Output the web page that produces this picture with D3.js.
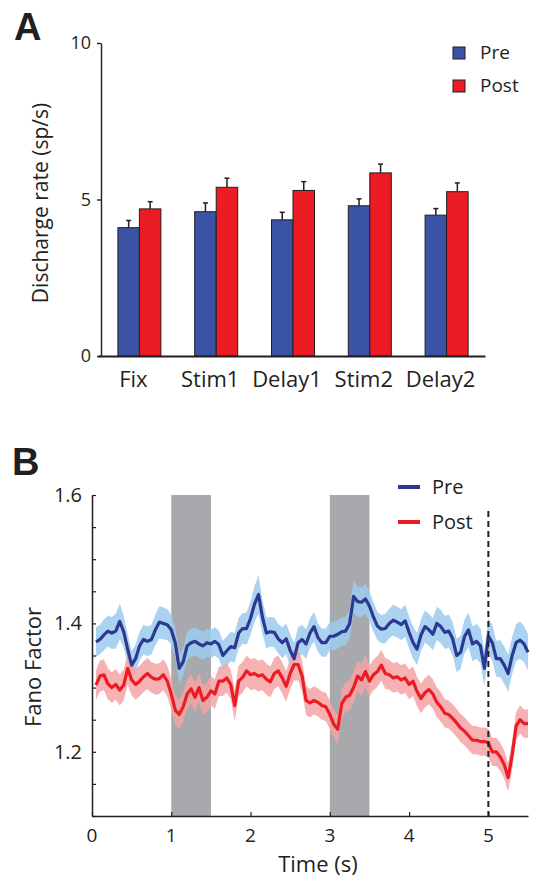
<!DOCTYPE html>
<html>
<head>
<meta charset="utf-8">
<script src="https://cdn.jsdelivr.net/npm/d3@7"></script>
<style>
  html, body { margin: 0; padding: 0; background: #fff; }
  svg { display: block; }
  text { font-family: "Open Sans", "Noto Sans", sans-serif; fill: #231f20; }
</style>
</head>
<body>
<svg id="chart" width="542" height="882"></svg>
<script>
// ---------- Panel A data ----------
const categories = ["Fix", "Stim1", "Delay1", "Stim2", "Delay2"];
const groups = ["Pre", "Post"];
const preRate = [4.10, 4.61, 4.35, 4.80, 4.50];
const postRate = [4.70, 5.39, 5.29, 5.85, 5.25];
const preErr = [0.23, 0.28, 0.24, 0.22, 0.21];
const postErr = [0.23, 0.29, 0.28, 0.28, 0.28];
const rateTicks = [0, 5, 10];

// ---------- Panel B data ----------
const time = [0.05,0.10,0.15,0.20,0.25,0.30,0.35,0.40,0.45,0.50,0.55,0.60,0.65,0.70,0.75,0.80,0.85,0.90,0.95,1.00,
  1.05,1.10,1.15,1.20,1.25,1.30,1.35,1.40,1.45,1.50,1.55,1.60,1.65,1.70,1.75,1.80,1.85,1.90,1.95,2.00,
  2.05,2.10,2.15,2.20,2.25,2.30,2.35,2.40,2.45,2.50,2.55,2.60,2.65,2.70,2.75,2.80,2.85,2.90,2.95,3.00,
  3.05,3.10,3.15,3.20,3.25,3.30,3.35,3.40,3.45,3.50,3.55,3.60,3.65,3.70,3.75,3.80,3.85,3.90,3.95,4.00,
  4.05,4.10,4.15,4.20,4.25,4.30,4.35,4.40,4.45,4.50,4.55,4.60,4.65,4.70,4.75,4.80,4.85,4.90,4.95,5.00,
  5.05,5.10,5.15,5.20,5.25,5.30,5.35,5.40,5.45,5.50];
const preFano = [1.371,1.375,1.382,1.388,1.385,1.388,1.403,1.387,1.360,1.335,1.345,1.365,1.375,1.372,1.375,1.390,1.402,1.400,1.398,1.390,
  1.370,1.330,1.340,1.365,1.370,1.372,1.368,1.365,1.370,1.368,1.372,1.367,1.350,1.357,1.364,1.362,1.385,1.392,1.392,1.408,
  1.430,1.445,1.410,1.385,1.387,1.386,1.376,1.370,1.376,1.358,1.345,1.370,1.375,1.368,1.385,1.395,1.378,1.370,1.370,1.380,
  1.380,1.383,1.387,1.388,1.400,1.442,1.434,1.433,1.438,1.427,1.410,1.396,1.391,1.392,1.400,1.405,1.402,1.398,1.404,1.386,
  1.370,1.360,1.382,1.395,1.390,1.383,1.400,1.395,1.386,1.388,1.376,1.350,1.355,1.380,1.390,1.368,1.372,1.365,1.330,1.380,
  1.370,1.345,1.345,1.335,1.322,1.350,1.370,1.374,1.368,1.355];
const preSem = [0.023,0.023,0.024,0.024,0.025,0.027,0.028,0.025,0.023,0.022,0.022,0.022,0.023,0.023,0.023,0.024,0.025,0.025,0.024,0.023,
  0.023,0.023,0.022,0.022,0.022,0.022,0.022,0.022,0.022,0.022,0.022,0.022,0.023,0.023,0.023,0.023,0.024,0.024,0.025,0.026,
  0.028,0.030,0.027,0.024,0.023,0.023,0.023,0.024,0.024,0.025,0.025,0.024,0.023,0.023,0.023,0.023,0.022,0.022,0.022,0.022,
  0.022,0.022,0.022,0.022,0.023,0.025,0.024,0.023,0.023,0.023,0.023,0.022,0.022,0.023,0.023,0.024,0.024,0.024,0.025,0.025,
  0.025,0.025,0.025,0.025,0.025,0.025,0.026,0.026,0.026,0.026,0.026,0.026,0.026,0.026,0.027,0.027,0.027,0.027,0.028,0.028,
  0.028,0.028,0.029,0.029,0.029,0.029,0.029,0.029,0.028,0.028];
const postFano = [1.304,1.318,1.320,1.306,1.300,1.305,1.296,1.304,1.330,1.312,1.305,1.310,1.317,1.322,1.316,1.313,1.314,1.320,1.310,1.290,
  1.265,1.258,1.270,1.290,1.298,1.285,1.300,1.280,1.285,1.295,1.290,1.310,1.310,1.315,1.305,1.272,1.310,1.316,1.326,1.320,
  1.322,1.318,1.320,1.313,1.309,1.322,1.326,1.315,1.302,1.322,1.336,1.336,1.318,1.280,1.276,1.280,1.277,1.272,1.270,1.258,
  1.243,1.235,1.275,1.285,1.288,1.300,1.318,1.312,1.325,1.310,1.320,1.325,1.335,1.322,1.320,1.315,1.317,1.312,1.315,1.305,
  1.310,1.294,1.283,1.292,1.297,1.290,1.277,1.270,1.260,1.258,1.252,1.245,1.237,1.232,1.225,1.218,1.218,1.216,1.216,1.214,
  1.200,1.200,1.192,1.180,1.160,1.195,1.240,1.250,1.244,1.244];
const postSem = [0.023,0.024,0.024,0.024,0.024,0.024,0.024,0.024,0.025,0.024,0.024,0.024,0.024,0.024,0.024,0.024,0.024,0.024,0.024,0.024,
  0.023,0.023,0.023,0.023,0.023,0.023,0.023,0.023,0.023,0.023,0.023,0.023,0.023,0.023,0.023,0.024,0.024,0.024,0.024,0.024,
  0.024,0.024,0.024,0.024,0.024,0.024,0.024,0.024,0.024,0.024,0.025,0.025,0.024,0.023,0.022,0.022,0.022,0.022,0.022,0.022,
  0.022,0.022,0.023,0.023,0.024,0.024,0.025,0.025,0.025,0.024,0.024,0.024,0.024,0.024,0.023,0.023,0.023,0.023,0.023,0.023,
  0.023,0.023,0.023,0.023,0.023,0.023,0.023,0.023,0.022,0.022,0.022,0.022,0.022,0.022,0.022,0.022,0.022,0.022,0.022,0.022,
  0.022,0.022,0.022,0.022,0.022,0.022,0.022,0.022,0.022,0.022];
const fanoTicks = [1.2, 1.4, 1.6];
const fanoMinorTicks = [1.1, 1.15, 1.2, 1.25, 1.3, 1.35, 1.4, 1.45, 1.5, 1.55, 1.6];
const timeTicks = [0, 1, 2, 3, 4, 5];
const stimEpochs = [[1, 1.5], [3, 3.5]];
const markerTime = 5;
const markerTop = 1.575;

// ---------- colours ----------
const colPre = "#3a53a4", colPost = "#ec1c24";
const colPreLine = "#2b3990", colPreBand = "#9ccbee";
const colPostLine = "#ed1c24", colPostBand = "#f5a3a5";
const ink = "#231f20";

const svg = d3.select("#chart");

// ================= Panel A =================
const yA = d3.scaleLinear().domain([0, 10]).range([356, 43]);
const xA = d3.scaleBand().domain(categories).range([101, 485]).paddingInner(0.44).paddingOuter(0.22);
const xA1 = d3.scaleBand().domain(groups).range([0, xA.bandwidth()]);

svg.append("text").attr("x", 14).attr("y", 40)
  .style("font-family", "'Liberation Sans', Arial, sans-serif")
  .style("font-weight", "bold").style("font-size", "38px").text("A");

const gA = svg.append("g");
const rows = categories.map((c, i) => ({c, vals: [
  {g: "Pre", v: preRate[i], e: preErr[i], col: colPre},
  {g: "Post", v: postRate[i], e: postErr[i], col: colPost}]}));

const grp = gA.selectAll("g.grp").data(rows).join("g")
  .attr("transform", d => `translate(${xA(d.c)},0)`);
grp.selectAll("line.err").data(d => d.vals).join("line")
  .attr("x1", d => xA1(d.g) + xA1.bandwidth() / 2).attr("x2", d => xA1(d.g) + xA1.bandwidth() / 2)
  .attr("y1", d => yA(d.v)).attr("y2", d => yA(d.v + d.e))
  .attr("stroke", ink).attr("stroke-width", 1.5);
grp.selectAll("line.cap").data(d => d.vals).join("line")
  .attr("x1", d => xA1(d.g) + xA1.bandwidth() / 2 - 2.5).attr("x2", d => xA1(d.g) + xA1.bandwidth() / 2 + 2.5)
  .attr("y1", d => yA(d.v + d.e)).attr("y2", d => yA(d.v + d.e))
  .attr("stroke", ink).attr("stroke-width", 1.5);
grp.selectAll("rect").data(d => d.vals).join("rect")
  .attr("x", d => xA1(d.g)).attr("width", xA1.bandwidth())
  .attr("y", d => yA(d.v)).attr("height", d => yA(0) - yA(d.v))
  .attr("fill", d => d.col).attr("stroke", ink).attr("stroke-width", 1);

const axA = gA.append("g").attr("transform", "translate(101,0)")
  .call(d3.axisLeft(yA).tickValues(rateTicks).tickSize(4).tickSizeOuter(0).tickPadding(6));
axA.select(".domain").attr("stroke", ink).attr("stroke-width", 1.4);
axA.selectAll(".tick line").attr("stroke", ink).attr("stroke-width", 1.4);
axA.selectAll(".tick text").style("font-size", "18px").attr("fill", ink)
  .style("font-family", "'Open Sans', sans-serif");
const axAx = gA.append("g").attr("transform", "translate(0,356)")
  .call(d3.axisBottom(d3.scaleLinear().domain([0, 1]).range([98, 485])).tickValues([]).tickSizeOuter(0));
axAx.select(".domain").attr("stroke", ink).attr("stroke-width", 2.2);
gA.selectAll("text.cat").data(categories).join("text").attr("class", "cat")
  .attr("x", d => xA(d) + xA.bandwidth() / 2 - 6).attr("y", 387)
  .attr("text-anchor", "middle").style("font-size", "22px").text(d => d);
gA.append("text").attr("transform", "translate(48,203) rotate(-90)")
  .attr("text-anchor", "middle").style("font-size", "21px").text("Discharge rate (sp/s)");
const legA = gA.selectAll("g.legA").data([{g: "Pre", c: colPre}, {g: "Post", c: colPost}]).join("g")
  .attr("transform", (d, i) => `translate(453,${47 + i * 33})`);
legA.append("rect").attr("width", 12).attr("height", 12).attr("fill", d => d.c)
  .attr("stroke", ink).attr("stroke-width", 1);
legA.append("text").attr("x", 27).attr("y", 12).style("font-size", "19px").text(d => d.g);

// ================= Panel B =================
const xB = d3.scaleLinear().domain([0, 5.5]).range([92, 528]);
const yB = d3.scaleLinear().domain([1.1, 1.6]).range([816, 495]);

svg.append("text").attr("x", 12).attr("y", 475)
  .style("font-family", "'Liberation Sans', Arial, sans-serif")
  .style("font-weight", "bold").style("font-size", "38px").text("B");

const gB = svg.append("g");
gB.selectAll("rect.epoch").data(stimEpochs).join("rect")
  .attr("x", d => xB(d[0])).attr("width", d => xB(d[1]) - xB(d[0]))
  .attr("y", yB(1.6)).attr("height", yB(1.1) - yB(1.6)).attr("fill", "#a7a9ac");

const series = [
  {vals: preFano, sem: preSem, line: colPreLine, band: colPreBand},
  {vals: postFano, sem: postSem, line: colPostLine, band: colPostBand}];
series.forEach(s => {
  const pts = time.map((t, i) => ({t, v: s.vals[i], e: s.sem[i]}));
  gB.append("path").datum(pts)
    .attr("d", d3.area().x(d => xB(d.t)).y0(d => yB(d.v - d.e)).y1(d => yB(d.v + d.e)))
    .attr("fill", s.band).attr("opacity", 0.85);
});
series.forEach(s => {
  const pts = time.map((t, i) => ({t, v: s.vals[i]}));
  gB.append("path").datum(pts)
    .attr("d", d3.line().x(d => xB(d.t)).y(d => yB(d.v)))
    .attr("fill", "none").attr("stroke", s.line).attr("stroke-width", 3.2)
    .attr("stroke-linejoin", "round");
});

gB.append("line").attr("x1", xB(markerTime)).attr("x2", xB(markerTime))
  .attr("y1", yB(markerTop)).attr("y2", yB(1.1))
  .attr("stroke", ink).attr("stroke-width", 2).attr("stroke-dasharray", "6,4");

const axBy = gB.append("g").attr("transform", "translate(92,0)")
  .call(d3.axisRight(yB).tickValues(fanoMinorTicks).tickSize(4).tickSizeOuter(0).tickFormat(""));
axBy.select(".domain").attr("stroke", ink).attr("stroke-width", 1.5);
axBy.selectAll(".tick line").attr("stroke", ink).attr("stroke-width", 1.2);
gB.selectAll("text.yt").data(fanoTicks).join("text")
  .attr("x", 82).attr("y", d => yB(d)).attr("dy", "0.35em").attr("text-anchor", "end")
  .style("font-size", "20px").text(d => d.toFixed(1));
const axBx = gB.append("g").attr("transform", "translate(0,816)")
  .call(d3.axisTop(xB).tickValues(timeTicks).tickSize(4).tickSizeOuter(0).tickFormat(""));
axBx.select(".domain").attr("stroke", ink).attr("stroke-width", 1.5);
axBx.selectAll(".tick line").attr("stroke", ink).attr("stroke-width", 1.2);
gB.selectAll("text.xt").data(timeTicks).join("text")
  .attr("x", d => xB(d)).attr("y", 842).attr("text-anchor", "middle")
  .style("font-size", "19px").text(d => d);
gB.append("text").attr("x", 318).attr("y", 872).attr("text-anchor", "middle")
  .style("font-size", "22px").text("Time (s)");
gB.append("text").attr("transform", "translate(41,667) rotate(-90)")
  .attr("text-anchor", "middle").style("font-size", "22px").text("Fano Factor");
const legB = gB.selectAll("g.legB").data([{g: "Pre", c: colPreLine}, {g: "Post", c: colPostLine}]).join("g")
  .attr("transform", (d, i) => `translate(398,${487 + i * 35})`);
legB.append("line").attr("x1", 0).attr("x2", 22).attr("stroke", d => d.c).attr("stroke-width", 4);
legB.append("text").attr("x", 34).attr("y", 0).attr("dy", "0.35em").style("font-size", "20px").text(d => d.g);
</script>
</body>
</html>
